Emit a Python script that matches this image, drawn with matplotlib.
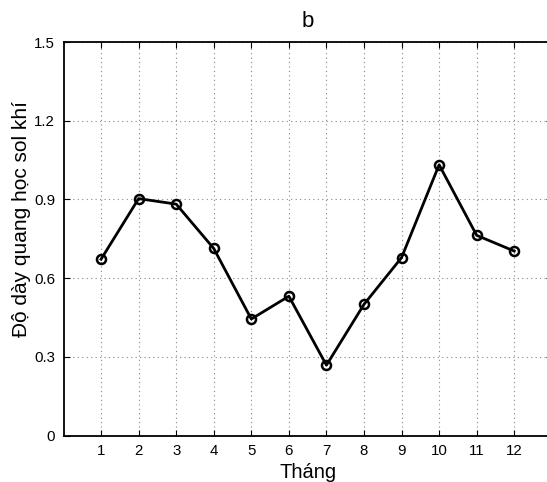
import matplotlib
matplotlib.use("Agg")
import matplotlib.pyplot as plt

months = [1, 2, 3, 4, 5, 6, 7, 8, 9, 10, 11, 12]
aod = [0.672, 0.903, 0.882, 0.713, 0.444, 0.531, 0.268, 0.500, 0.678, 1.032, 0.763, 0.703]
yticks = [0, 0.3, 0.6, 0.9, 1.2, 1.5]
ytick_labels = ["0", "0.3", "0.6", "0.9", "1.2", "1.5"]

plt.rcParams['font.family'] = ['Liberation Sans', 'DejaVu Sans']

W, H = 547, 482
fig = plt.figure(figsize=(W / 100, H / 100), dpi=100)
left, right, top, bottom = 63.5, 551.8, 42, 435.5
aw, ah = right - left, bottom - top
ax = fig.add_axes([left / W, 1 - bottom / H, aw / W, ah / H])

ax.plot(months, aod, color='black', linewidth=2, marker='o', markersize=6.5,
        markerfacecolor='none', markeredgewidth=1.8)

ax.set_xlim(0, 13)
ax.set_ylim(0, 1.5)
ax.set_xticks(months)
ax.set_yticks(yticks)
ax.set_yticklabels(ytick_labels)
ax.tick_params(direction='in', length=4, width=0.8, labelsize=10.8, top=True, right=True, pad=6)
ax.grid(True, linestyle=(0, (1, 3)), color='#888888', linewidth=0.8)
for s in ax.spines.values():
    s.set_linewidth(1.3)

xl = ax.set_xlabel('Tháng', fontsize=14.5)
xl.set_va('baseline')
ax.xaxis.set_label_coords(0.5, -(478 - bottom) / ah)

yl = ax.set_ylabel('Độ dày quang học sol khí', fontsize=15)
ax.yaxis.set_label_coords(-(left - 31.5) / aw, (bottom - 219) / ah)

ax.set_title('b', fontsize=16, pad=10.8)

fig.savefig('out.png', dpi=100)
